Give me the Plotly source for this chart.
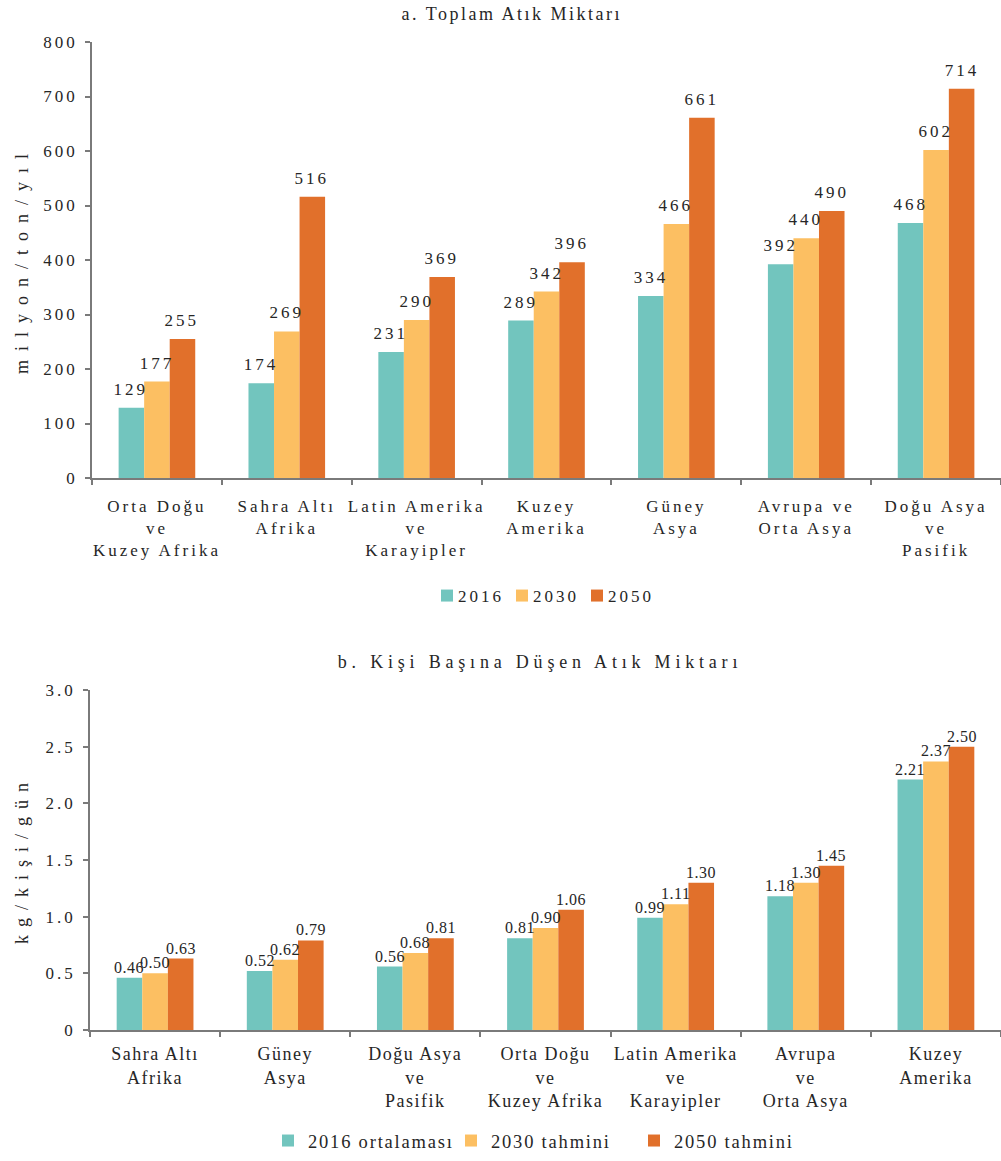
import plotly.graph_objects as go

# Panel a: total waste (million tonnes per year)
regions_a = ["Orta Doğu<br>ve<br>Kuzey Afrika", "Sahra Altı<br>Afrika",
             "Latin Amerika<br>ve<br>Karayipler", "Kuzey<br>Amerika",
             "Güney<br>Asya", "Avrupa ve<br>Orta Asya", "Doğu Asya<br>ve<br>Pasifik"]
total_2016 = [129, 174, 231, 289, 334, 392, 468]
total_2030 = [177, 269, 290, 342, 466, 440, 602]
total_2050 = [255, 516, 369, 396, 661, 490, 714]
series_a = ["2016", "2030", "2050"]

# Panel b: waste per person (kg per person per day)
regions_b = ["Sahra Altı<br>Afrika", "Güney<br>Asya", "Doğu Asya<br>ve<br>Pasifik",
             "Orta Doğu<br>ve<br>Kuzey Afrika", "Latin Amerika<br>ve<br>Karayipler",
             "Avrupa<br>ve<br>Orta Asya", "Kuzey<br>Amerika"]
pc_2016 = [0.46, 0.52, 0.56, 0.81, 0.99, 1.18, 2.21]
pc_2030 = [0.50, 0.62, 0.68, 0.90, 1.11, 1.30, 2.37]
pc_2050 = [0.63, 0.79, 0.81, 1.06, 1.30, 1.45, 2.50]
series_b = ["2016 ortalaması", "2030 tahmini", "2050 tahmini"]

y_ticks_a = [0, 100, 200, 300, 400, 500, 600, 700, 800]
y_ticks_b = [0, 0.5, 1.0, 1.5, 2.0, 2.5, 3.0]
y_ticklabels_b = ["0", "0.5", "1.0", "1.5", "2.0", "2.5", "3.0"]

title_a = "a. Toplam Atık Miktarı"
title_b = "b. Kişi Başına Düşen Atık Miktarı"
ytitle_a = "milyon/ton/yıl"
ytitle_b = "kg/kişi/gün"

COLORS = ["#72C5BE", "#FCBF62", "#E1702B"]
FONT = "Liberation Serif, Times New Roman, serif"
TXT = "#262626"
AX = "#7a7a7a"

W, H = 1001, 1161
BARGAP = 0.41


def py(px):
    """Convert a pixel row (from the top) to paper coordinates."""
    return 1 - px / H


fig = go.Figure()

for name, vals, col in zip(series_a, [total_2016, total_2030, total_2050], COLORS):
    fig.add_trace(go.Bar(x=regions_a, y=vals, name=name, marker_color=col,
                         marker_line_width=0, xaxis="x", yaxis="y",
                         legend="legend", hoverinfo="skip"))

for name, vals, col in zip(series_b, [pc_2016, pc_2030, pc_2050], COLORS):
    fig.add_trace(go.Bar(x=regions_b, y=vals, name=name, marker_color=col,
                         marker_line_width=0, xaxis="x2", yaxis="y2",
                         legend="legend2", hoverinfo="skip"))

dom_a = [92 / W, 1]
dom_b = [90 / W, 1]


def paper_text(text, xpx, ypx, size, angle=0):
    return dict(text=text, x=xpx / W, y=py(ypx), xref="paper", yref="paper",
                xanchor="center", yanchor="middle", textangle=angle,
                showarrow=False, font=dict(family=FONT, size=size, color=TXT))


annotations = [
    paper_text(title_a, 511, 14, 18),
    paper_text(title_b, 540, 662, 18),
    paper_text(ytitle_a, 22, 260, 18, -90),
    paper_text(ytitle_b, 22, 860, 18, -90),
]


def value_labels(cats, groups, xref, yref, dom, fmt, size, yshift):
    cat_px = (dom[1] - dom[0]) * W / len(cats)
    bar_px = cat_px * (1 - BARGAP) / len(groups)
    out = []
    for j, vals in enumerate(groups):
        for c, v in zip(cats, vals):
            out.append(dict(text=fmt.format(v), x=c, y=v, xref=xref, yref=yref,
                            xshift=(j - 1) * bar_px, yshift=yshift,
                            yanchor="bottom", showarrow=False,
                            font=dict(family=FONT, size=size, color=TXT)))
    return out


annotations += value_labels(regions_a, [total_2016, total_2030, total_2050],
                            "x", "y", dom_a, "{:d}", 17, 7)
annotations += value_labels(regions_b, [pc_2016, pc_2030, pc_2050],
                            "x2", "y2", dom_b, "{:.2f}", 16, 0)

axis_common = dict(showline=True, linecolor=AX, linewidth=1.5, ticks="outside",
                   ticklen=5, tickcolor=AX, tickwidth=1.5, showgrid=False,
                   zeroline=False, automargin=False)

fig.update_layout(
    width=W, height=H, autosize=False,
    margin=dict(l=0, r=0, t=0, b=0),
    paper_bgcolor="white", plot_bgcolor="white",
    barmode="group", bargap=BARGAP, bargroupgap=0,
    font=dict(family=FONT, color=TXT),
    xaxis=dict(domain=dom_a, anchor="y", type="category", range=[-0.5, 6.5],
               tickson="boundaries", ticklabelstandoff=12,
               tickfont=dict(family=FONT, size=17, color=TXT), **axis_common),
    yaxis=dict(domain=[py(478), py(42)], anchor="x", range=[0, 800],
               tickvals=y_ticks_a, ticklabelstandoff=4,
               tickfont=dict(family=FONT, size=17, color=TXT), **axis_common),
    xaxis2=dict(domain=dom_b, anchor="y2", type="category", range=[-0.5, 6.5],
                tickson="boundaries", ticklabelstandoff=7,
                tickfont=dict(family=FONT, size=18, color=TXT), **axis_common),
    yaxis2=dict(domain=[py(1030), py(690)], anchor="x2", range=[0, 3],
                tickvals=y_ticks_b, ticktext=y_ticklabels_b, ticklabelstandoff=4,
                tickfont=dict(family=FONT, size=17, color=TXT), **axis_common),
    legend=dict(orientation="h", x=427 / W, xanchor="left", y=py(596),
                yanchor="middle", entrywidth=30, entrywidthmode="pixels",
                itemwidth=30, font=dict(family=FONT, size=17, color=TXT),
                bgcolor="rgba(0,0,0,0)"),
    legend2=dict(orientation="h", x=268 / W, xanchor="left", y=py(1141),
                 yanchor="middle", entrywidth=138, entrywidthmode="pixels",
                 itemwidth=30, font=dict(family=FONT, size=18.5, color=TXT),
                 bgcolor="rgba(0,0,0,0)"),
    annotations=annotations,
    showlegend=True,
)

# Tracking (letter spacing) of the serif type, applied per text group.
# Annotation texts are re-centred afterwards so the added tracking
# does not move them off their anchor; legend labels sit closer to
# their swatches and are not clipped.
n_a = len(regions_a) * 3
post = """
var gd = document.getElementById('{plot_id}');
function sp(sel, v) {
  gd.querySelectorAll(sel).forEach(function (t) { t.style.letterSpacing = v; });
}
sp('g.xtick text', '3px');
sp('g.ytick text', '3px');
sp('g.x2tick text', '1.5px');
sp('g.y2tick text', '3px');
sp('g.legend text', '3px');
sp('g.legend2 text', '1.8px');

var track = {0: '2.5px', 1: '4.8px', 2: '9px', 3: '8px'};
gd.querySelectorAll('g.annotation').forEach(function (g) {
  var i = parseInt(g.getAttribute('data-index'));
  var t = g.querySelector('text');
  if (!t) return;
  var v = track[i];
  if (v === undefined) v = (i < 4 + NA) ? '3px' : '0.5px';
  var b0 = t.getBBox();
  t.style.letterSpacing = v;
  var b1 = t.getBBox();
  var d = (b0.x + b0.width / 2) - (b1.x + b1.width / 2);
  var x = parseFloat(t.getAttribute('x') || '0');
  t.setAttribute('x', x + d);
  t.querySelectorAll('tspan[x]').forEach(function (s) {
    s.setAttribute('x', parseFloat(s.getAttribute('x')) + d);
  });
});

gd.querySelectorAll('g.legend .scrollbox, g.legend2 .scrollbox').forEach(function (s) {
  s.removeAttribute('clip-path');
});
gd.querySelectorAll('g.legend text.legendtext, g.legend2 text.legendtext').forEach(function (t) {
  var x = parseFloat(t.getAttribute('x') || '0');
  t.setAttribute('x', x - 9);
});
""".replace("NA", str(n_a))

fig.write_html("out.html", post_script=post, config={"displayModeBar": False})
